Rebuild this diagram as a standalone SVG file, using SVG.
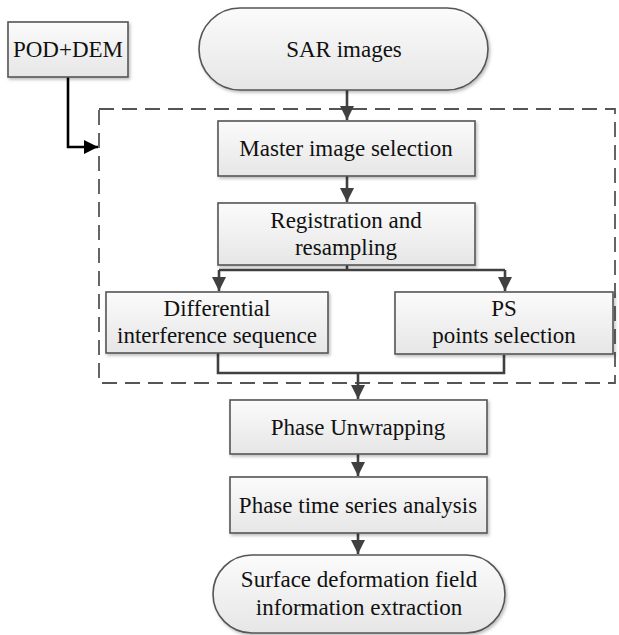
<svg xmlns="http://www.w3.org/2000/svg" width="619" height="635" viewBox="0 0 619 635">
<defs>
<linearGradient id="g" x1="0" y1="0" x2="0" y2="1">
<stop offset="0" stop-color="#fbfbfb"/>
<stop offset="1" stop-color="#e6e6e6"/>
</linearGradient>
<filter id="sh" x="-10%" y="-10%" width="130%" height="140%">
<feDropShadow dx="1.5" dy="2" stdDeviation="1.5" flood-color="#000" flood-opacity="0.25"/>
</filter>
<marker id="ah" viewBox="0 0 10 10" refX="10" refY="5" markerWidth="5.5" markerHeight="5.5" orient="auto" markerUnits="strokeWidth">
<path d="M0,0 L10,5 L0,10 z" fill="#404040"/>
</marker>
<marker id="ahb" viewBox="0 0 10 10" refX="10" refY="5" markerWidth="5.5" markerHeight="5.5" orient="auto" markerUnits="strokeWidth">
<path d="M0,0 L10,5 L0,10 z" fill="#000"/>
</marker>
</defs>
<style>
.box{fill:url(#g);stroke:#555;stroke-width:1.6;filter:url(#sh)}
.t{font-family:"Liberation Serif","Times New Roman",serif;font-size:23px;fill:#111;text-anchor:middle}
.c{fill:none;stroke:#404040;stroke-width:2.6}
.ca{fill:none;stroke:#404040;stroke-width:2.6;marker-end:url(#ah)}
.dash{fill:none;stroke:#555;stroke-width:1.8;stroke-dasharray:15 8}
</style>
<rect x="0" y="0" width="619" height="635" fill="#fff"/>
<rect class="dash" x="99" y="109" width="516" height="274"/>
<g id="connectors">
<path d="M68,77 V147 H98" fill="none" stroke="#000" stroke-width="2.6" marker-end="url(#ahb)"/>
<path class="ca" d="M347,90 V120"/>
<path class="ca" d="M347,176 V202"/>
<path class="c" d="M347,265 V270 M219,270 H505"/>
<path class="ca" d="M219,270 V291"/>
<path class="ca" d="M505,270 V291"/>
<path class="c" d="M218,353 V373 H504 V355"/>
<path class="ca" d="M358,373 V399"/>
<path class="ca" d="M358,454 V476"/>
<path class="ca" d="M358,533 V554"/>
</g>
<g id="pod"><rect class="box" x="8" y="22" width="120" height="55"/><text class="t" x="68" y="57">POD+DEM</text></g>
<g id="sar"><rect class="box" x="199" y="8" width="289" height="82" rx="41" ry="41"/><text class="t" x="344" y="57">SAR images</text></g>
<g id="master"><rect class="box" x="218" y="121" width="257" height="55"/><text class="t" x="346" y="156">Master image selection</text></g>
<g id="registration"><rect class="box" x="218" y="203" width="257" height="62"/><text class="t" x="346" y="228">Registration and</text><text class="t" x="346" y="255">resampling</text></g>
<g id="differential"><rect class="box" x="106" y="292" width="222" height="61"/><text class="t" x="217" y="316">Differential</text><text class="t" x="217" y="343">interference sequence</text></g>
<g id="ps"><rect class="box" x="395" y="292" width="218" height="62"/><text class="t" x="504" y="316">PS</text><text class="t" x="504" y="343">points selection</text></g>
<g id="unwrap"><rect class="box" x="230" y="400" width="257" height="54"/><text class="t" x="358" y="435">Phase Unwrapping</text></g>
<g id="timeseries"><rect class="box" x="230" y="477" width="257" height="56"/><text class="t" x="358" y="513">Phase time series analysis</text></g>
<g id="surface"><rect class="box" x="213" y="555" width="292" height="78" rx="39" ry="39"/><text class="t" x="359" y="587">Surface deformation field</text><text class="t" x="359" y="615">information extraction</text></g>
</svg>
